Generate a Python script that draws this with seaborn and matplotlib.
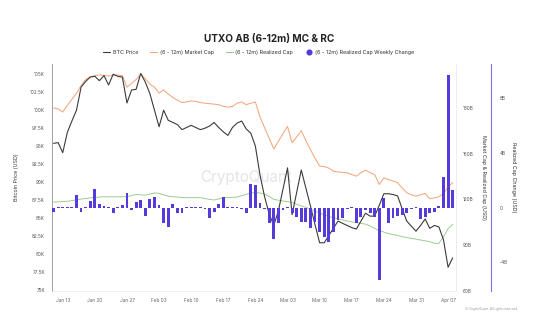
import numpy as np
import pandas as pd
import matplotlib
matplotlib.use("Agg")
import matplotlib.pyplot as plt
import matplotlib.dates as mdates
from matplotlib.lines import Line2D
from matplotlib.ticker import FixedLocator, FuncFormatter
import seaborn as sns

# ---- data -------------------------------------------------------------
dates = pd.date_range("2025-01-11", periods=88, freq="D")

btc_price_k = [
    95.4, 95.5, 94.1, 96.9, 98.5, 100.0, 103.2, 104.0, 104.6, 104.7,
    104.1, 104.8, 103.5, 105.0, 104.7, 104.6, 101.0, 102.8, 102.9, 105.1,
    103.9, 102.3, 100.0, 97.7, 100.0, 98.6, 98.3, 98.0, 97.3, 97.6,
    97.9, 97.6, 97.3, 97.5, 97.8, 98.3, 97.6, 97.0, 96.5, 97.6,
    98.2, 98.5, 97.4, 96.8, 95.0, 91.0, 88.0, 85.6, 84.0, 86.0,
    89.0, 92.0, 85.5, 88.6, 91.7, 89.2, 86.7, 84.1, 81.6, 81.6,
    82.6, 83.6, 84.6, 84.3, 84.0, 83.7, 83.5, 84.6, 85.7, 85.3,
    85.3, 86.8, 88.4, 88.4, 88.3, 88.1, 86.3, 84.6, 83.9, 83.2,
    84.0, 84.9, 83.6, 84.0, 83.8, 82.0, 78.2, 79.5,
]

market_cap_b = [
    179.8, 179.3, 177.2, 181.5, 185.5, 189.5, 194.5, 198.5, 200.4, 201.0,
    201.5, 201.2, 200.8, 201.2, 201.5, 201.0, 193.5, 196.0, 198.5, 202.1,
    199.0, 195.5, 193.5, 189.6, 191.7, 189.0, 186.8, 185.0, 183.4, 183.8,
    184.5, 184.2, 183.4, 183.0, 182.7, 182.4, 182.0, 181.0, 180.4, 180.8,
    183.0, 183.8, 182.0, 183.0, 183.7, 174.0, 167.0, 160.0, 153.0, 158.0,
    163.0, 167.8, 157.0, 161.0, 165.0, 158.5, 152.6, 147.0, 141.8, 141.5,
    140.5, 138.5, 138.0, 137.7, 137.4, 136.3, 135.2, 137.5, 139.1, 137.5,
    136.3, 129.8, 134.1, 133.0, 132.0, 130.9, 127.5, 124.4, 123.0, 122.1,
    123.0, 123.9, 120.4, 121.0, 121.7, 124.0, 128.0, 131.0,
]

realized_cap_b = [
    118.2, 118.4, 118.6, 118.8, 119.2, 119.7, 120.2, 120.6, 121.0, 121.3,
    121.5, 121.7, 121.7, 121.7, 121.7, 121.7, 121.8, 122.5, 123.2, 123.0,
    122.8, 123.5, 124.2, 124.0, 123.0, 122.1, 121.8, 121.5, 121.2, 121.1,
    121.1, 121.1, 121.1, 120.6, 120.0, 119.6, 120.3, 121.1, 121.2, 121.3,
    121.5, 122.4, 123.3, 124.2, 124.4, 124.2, 123.5, 122.0, 120.0, 119.5,
    119.0, 118.5, 118.0, 116.8, 115.7, 114.8, 113.6, 112.4, 111.1, 109.9,
    108.8, 108.0, 107.3, 106.5, 105.8, 105.3, 104.8, 104.3, 103.8, 102.6,
    101.0, 99.6, 98.6, 97.6, 97.0, 96.4, 95.6, 95.0, 94.5, 94.0,
    93.4, 92.9, 92.3, 91.3, 91.2, 95.5, 100.8, 103.7,
]

rc_weekly_change_b = [
    -0.35, 0.06, 0.06, 0.03, 0.06, 0.91, -0.30, 0.03, 0.50, 1.33,
    0.26, 0.10, 0.05, -0.38, 0.03, 0.18, 1.04, -0.18, 0.42, 0.55,
    -0.62, 0.60, 0.74, 0.18, -1.10, -1.40, 0.26, -0.38, -0.38, 0.02,
    0.05, 0.02, 0.03, -0.10, -0.79, -0.35, 0.26, 0.79, 0.05, 0.02,
    0.05, -0.10, -0.42, 1.70, 1.64, 0.31, -0.10, -1.15, -2.32, -1.15,
    -0.20, 0.05, -0.42, -0.67, -1.04, -1.04, -1.52, -1.04, -1.77, -2.13,
    -2.50, -1.77, -0.91, -0.79, -0.10, 0.02, -1.10, -0.67, -0.20, -0.42,
    -0.67, -5.30, 0.67, -1.10, -0.79, -0.62, -0.55, -0.42, -0.10, 0.02,
    -0.86, -0.67, -0.42, -0.30, 0.10, 2.20, 9.67, 1.28,
]

week_ticks = pd.date_range("2025-01-13", "2025-04-07", freq="7D")
price_ticks = np.arange(75000, 105001, 2500)
cap_ticks = np.arange(60e9, 180e9 + 1, 30e9)
change_ticks = np.array([-4e9, 0, 4e9, 8e9])

df = pd.DataFrame({
    "date": dates,
    "price": np.array(btc_price_k) * 1e3,
    "mc": np.array(market_cap_b) * 1e9,
    "rc": np.array(realized_cap_b) * 1e9,
    "chg": np.array(rc_weekly_change_b) * 1e9,
})

# ---- style ------------------------------------------------------------
sns.set_theme(style="white")
plt.rcParams["font.family"] = ["Inter", "DejaVu Sans"]

C_PRICE = "#3b3b3b"
C_MC = "#f4a77c"
C_RC = "#93cc88"
C_BAR = "#553bdc"
C_SPINE = "#8073e0"
C_TICK = "#555555"
TICK_FS = 3.4

fig = plt.figure(figsize=(5.33, 3.27), dpi=100)
ax = fig.add_axes([0.0976, 0.110, 0.7585, 0.694])
ax2 = ax.twinx()
ax3 = ax.twinx()

# lines
sns.lineplot(data=df, x="date", y="mc", ax=ax2, color=C_MC, linewidth=0.75)
sns.lineplot(data=df, x="date", y="rc", ax=ax2, color=C_RC, linewidth=0.65)
sns.lineplot(data=df, x="date", y="price", ax=ax, color=C_PRICE, linewidth=0.8)
ax.set_zorder(ax2.get_zorder() + 1)
ax.patch.set_visible(False)

# weekly change bars
ax3.bar(df["date"], df["chg"], width=0.62, color=C_BAR, linewidth=0)
ax3.set_zorder(ax.get_zorder() + 1)
ax3.patch.set_visible(False)

# x axis
x0 = dates[0] - pd.Timedelta(hours=8)
x1 = dates[-1] + pd.Timedelta(hours=19)
ax.set_xlim(x0, x1)
ax.xaxis.set_major_locator(FixedLocator(mdates.date2num(week_ticks)))
ax.xaxis.set_major_formatter(mdates.DateFormatter("%b %d"))
ax.tick_params(axis="x", labelsize=TICK_FS, colors="#666666", length=0, pad=5)
ax.set_xlabel("")

# price axis
ax.set_ylim(74900, 106400)
ax.set_yticks(price_ticks)
ax.yaxis.set_major_formatter(FuncFormatter(
    lambda v, p: f"{v/1000:g}K"))
ax.tick_params(axis="y", labelsize=TICK_FS, colors=C_TICK, length=0, pad=5)
ax.set_ylabel("Bitcoin Price (USD)", fontsize=3.8, color="#333333")
ax.yaxis.set_label_coords(-0.082, 0.5)

# market cap / realized cap axis
ax2.set_ylim(60e9, 208.6e9)
ax2.set_yticks(cap_ticks)
ax2.yaxis.set_major_formatter(FuncFormatter(lambda v, p: f"{v/1e9:.0f}B"))
ax2.tick_params(axis="y", labelsize=TICK_FS, colors=C_TICK, length=0, pad=5)
ax2.set_ylabel("Market Cap & Realized Cap (USD)", fontsize=3.8,
               color="#333333", rotation=270, va="center")
ax2.yaxis.set_label_coords(1.067, 0.5)
ax2.set_xlabel("")

# weekly change axis
ax3.set_ylim(-6.09e9, 10.46e9)
ax3.set_yticks(change_ticks)
ax3.yaxis.set_major_formatter(FuncFormatter(
    lambda v, p: "0" if v == 0 else f"{v/1e9:.0f}B"))
ax3.tick_params(axis="y", labelsize=TICK_FS, colors=C_TICK, length=0, pad=6)
ax3.spines["right"].set_position(("axes", 1.087))
ax3.set_ylabel("Realized Cap Change (USD)", fontsize=3.8, color="#333333",
               rotation=270, va="center")
ax3.yaxis.set_label_coords(1.141, 0.5)

for a in (ax, ax2, ax3):
    a.grid(False)
    for s in a.spines.values():
        s.set_visible(False)
ax.spines["left"].set_visible(True)
ax.spines["left"].set_color("#a0a0a0")
ax.spines["left"].set_linewidth(0.7)
ax.spines["bottom"].set_visible(True)
ax.spines["bottom"].set_color("#ececec")
ax.spines["bottom"].set_linewidth(0.5)
ax2.spines["right"].set_visible(True)
ax2.spines["right"].set_color("#e6e6e6")
ax2.spines["right"].set_linewidth(0.5)
ax3.spines["right"].set_visible(True)
ax3.spines["right"].set_color(C_SPINE)
ax3.spines["right"].set_linewidth(0.8)

# watermark
ax.text(0.479, 0.50, "CryptoQuant", transform=ax.transAxes, ha="center",
        va="center", fontsize=11, color="#c9c9d6", alpha=0.5, zorder=0)

# title and legend
fig.text(0.505, 0.882, "UTXO AB (6-12m) MC & RC", ha="center", va="center",
         fontsize=7.2, fontweight="bold", color="#222222")
handles = [
    Line2D([], [], color=C_PRICE, linewidth=0.8),
    Line2D([], [], color=C_MC, linewidth=0.8),
    Line2D([], [], color=C_RC, linewidth=0.8),
    Line2D([], [], color=C_BAR, marker="o", linestyle="none", markersize=3.4),
]
labels = ["BTC Price", "(6 - 12m) Market Cap", "(6 - 12m) Realized Cap",
          "(6 - 12m) Realized Cap Weekly Change"]
fig.legend(handles, labels, loc="center", bbox_to_anchor=(0.485, 0.839),
           ncol=4, frameon=False, fontsize=3.9, handlelength=1.3,
           handletextpad=0.5, columnspacing=2.2, labelcolor="#333333")

fig.text(0.972, 0.054, "\u00a9 CryptoQuant. All rights reserved.",
         ha="right", va="center", fontsize=2.3, color="#999999")

fig.savefig("out.png", dpi=100, facecolor="white")
